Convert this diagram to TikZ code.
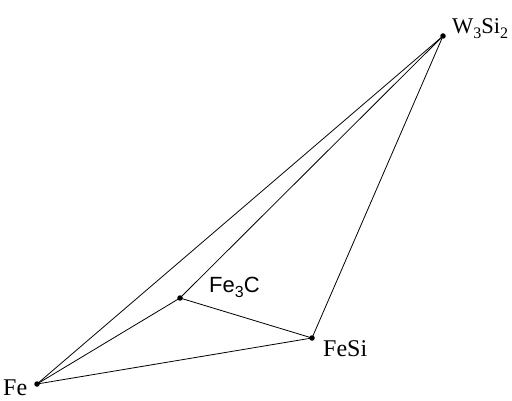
\documentclass[tikz,border=0pt]{standalone}
\usepackage{fontspec}
\setmainfont{Liberation Serif}
\setsansfont{Liberation Sans}
\newcommand{\chemsub}[1]{\raisebox{-0.45ex}{\fontsize{16}{18}\selectfont #1}}
\begin{document}
\begin{tikzpicture}[x=1pt,y=-1pt,
  phase/.style={circle,fill=black,inner sep=0pt,minimum size=5.5pt},
  tie/.style={black,line width=0.8pt},
  lbl/.style={inner sep=0pt,anchor=base west,font=\fontsize{24}{26}\selectfont}]
\useasboundingbox (0,0) rectangle (512,401);
% phases
\node[phase] (fe) at (37,384) {};
\node[phase] (fec) at (180,298) {};
\node[phase] (fesi) at (312,338) {};
\node[phase] (wsi) at (443,36) {};
% tie lines
\draw[tie] (fe.center) -- (wsi.center);
\draw[tie] (fe.center) -- (fec.center) -- (wsi.center);
\draw[tie] (fe.center) -- (fesi.center) -- (wsi.center);
\draw[tie] (fec.center) -- (fesi.center);
% labels
\node[lbl,font=\fontsize{22.5}{24}\selectfont] (wsilbl) at (452,34) {W\chemsub{3}Si\chemsub{2}};
\node[lbl,font=\sffamily\fontsize{22}{24}\selectfont] (feclbl) at (209,292) {Fe\chemsub{3}C};
\node[lbl] (fesilbl) at (323,356) {FeSi};
\node[lbl] (felbl) at (3,395) {Fe};
\end{tikzpicture}
\end{document}
